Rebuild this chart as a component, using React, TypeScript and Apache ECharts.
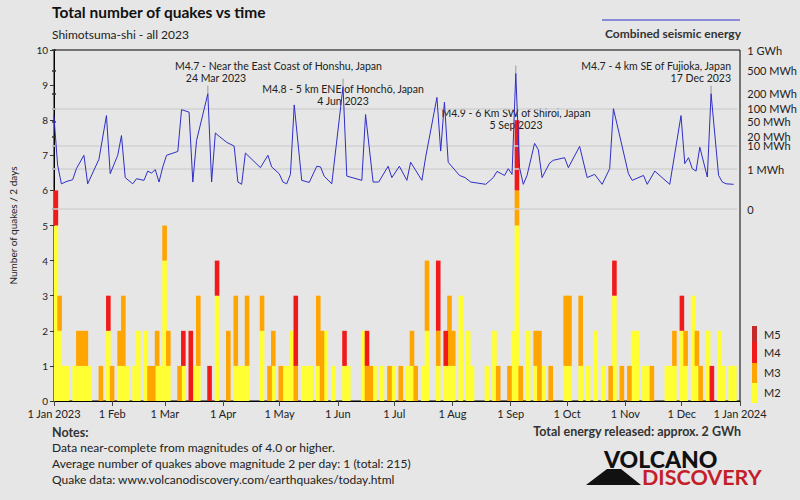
import { useEffect, useRef } from 'react';
import * as echarts from 'echarts';

// ---- axis ticks ----
const monthTickDays = [0, 31, 59, 90, 120, 151, 181, 212, 243, 273, 304, 334, 365];
const monthTickLabels = ['1 Jan 2023', '1 Feb', '1 Mar', '1 Apr', '1 May', '1 Jun', '1 Jul', '1 Aug', '1 Sep', '1 Oct', '1 Nov', '1 Dec', '1 Jan 2024'];

// ---- quake counts per 2-day bin (bin index i covers days 2i..2i+1) ----
const binIndex = [0, 1, 2, 3, 5, 6, 7, 8, 9, 12, 14, 15, 17, 18, 19, 21, 22, 24, 25, 26, 27, 28, 29, 30, 33, 34, 36, 37, 38, 41, 43, 46, 48, 49, 50, 51, 55, 57, 58, 60, 61, 62, 63, 64, 66, 67, 68, 70, 71, 72, 74, 77, 78, 82, 83, 84, 85, 87, 89, 90, 92, 94, 95, 96, 98, 99, 102, 104, 105, 106, 108, 110, 111, 115, 117, 118, 121, 122, 123, 124, 126, 128, 129, 130, 132, 136, 137, 140, 142, 144, 146, 148, 149, 151, 153, 154, 155, 157, 158, 159, 163, 164, 165, 167, 168, 170, 171, 172, 174, 175, 177, 178, 180, 181];
const m2 = [5, 2, 1, 1, 1, 1, 1, 1, 1, 0, 2, 0, 1, 1, 1, 1, 2, 2, 0, 0, 1, 1, 4, 1, 0, 1, 0, 1, 1, 0, 3, 0, 1, 1, 1, 1, 2, 0, 1, 0, 1, 1, 2, 0, 1, 1, 1, 1, 0, 2, 1, 1, 1, 2, 0, 0, 1, 1, 0, 1, 0, 1, 1, 0, 1, 2, 1, 1, 1, 1, 3, 2, 1, 1, 2, 0, 0, 2, 5, 0, 2, 1, 0, 1, 0, 1, 1, 1, 1, 2, 1, 0, 3, 0, 0, 2, 2, 1, 1, 0, 1, 1, 1, 2, 1, 3, 1, 0, 2, 0, 2, 1, 1, 1];
const m3 = [0, 1, 0, 0, 0, 1, 1, 1, 0, 1, 0, 1, 1, 2, 0, 0, 0, 0, 1, 1, 1, 0, 1, 1, 1, 0, 0, 0, 2, 0, 0, 2, 2, 0, 0, 2, 1, 1, 1, 1, 0, 0, 0, 1, 0, 0, 0, 2, 2, 0, 0, 0, 0, 0, 1, 1, 0, 0, 1, 0, 1, 0, 1, 1, 0, 2, 1, 0, 2, 1, 0, 0, 0, 0, 0, 1, 1, 0, 1, 1, 0, 1, 2, 0, 1, 2, 2, 2, 0, 0, 0, 1, 0, 1, 1, 0, 0, 0, 0, 1, 0, 0, 1, 0, 1, 0, 1, 1, 0, 0, 0, 0, 0, 0];
const m4 = [1, 0, 0, 0, 0, 0, 0, 0, 0, 0, 1, 0, 0, 0, 0, 0, 0, 0, 0, 0, 0, 0, 0, 0, 0, 1, 2, 0, 0, 1, 1, 0, 0, 0, 0, 0, 0, 0, 0, 0, 0, 0, 0, 2, 0, 0, 0, 0, 0, 0, 0, 1, 0, 0, 1, 0, 0, 0, 0, 0, 0, 0, 0, 0, 0, 0, 2, 1, 0, 0, 0, 0, 0, 0, 0, 0, 0, 0, 2, 0, 0, 0, 0, 0, 0, 0, 0, 0, 0, 0, 0, 0, 1, 0, 0, 0, 0, 0, 0, 0, 0, 0, 0, 1, 0, 0, 0, 0, 0, 1, 0, 0, 0, 0];
const m5 = binIndex.map(() => 0);
const binCount = 183;

// ---- combined seismic energy (MWh), by day of year ----
const energyDays = [1, 3, 5, 8, 11, 13, 17, 19, 25, 29, 31, 35, 37, 39, 43, 45, 49, 51, 53, 55, 57, 59, 61, 67, 69, 73, 75, 77, 83, 85, 87, 89, 93, 97, 99, 101, 103, 111, 115, 117, 121, 123, 125, 127, 129, 133, 137, 141, 143, 145, 149, 155, 157, 165, 167, 171, 174, 179, 181, 185, 189, 191, 197, 199, 205, 207, 209, 211, 217, 220, 223, 231, 235, 237, 241, 243, 245, 247, 249, 251, 253, 257, 259, 261, 265, 267, 273, 275, 281, 285, 289, 293, 297, 299, 307, 309, 315, 317, 321, 329, 335, 337, 339, 341, 343, 345, 349, 351, 355, 357, 359, 363];
const energyMWh = [70, 1.6, 0.1, 0.16, 0.21, 1.05, 4.4, 0.1, 3.0, 70, 0.54, 4.4, 21, 0.3, 0.1, 0.25, 0.19, 0.77, 0.59, 0.93, 0.14, 1.3, 4.4, 6.2, 95, 84, 0.14, 15, 200, 0.14, 25, 20, 13, 9.7, 0.14, 0.09, 5.4, 1.19, 4.4, 1.3, 0.54, 0.14, 0.1, 0.49, 120, 0.19, 0.13, 1.4, 1.3, 0.37, 0.1, 270, 0.38, 0.19, 74, 0.14, 0.14, 1.4, 0.3, 1.4, 0.19, 2.2, 0.19, 3.7, 170, 6.4, 137, 2.2, 0.42, 0.3, 0.14, 0.09, 0.3, 0.74, 0.42, 1.05, 0.49, 450, 1.19, 0.09, 0.42, 12, 7.2, 0.3, 2.0, 2.7, 3.5, 1.19, 9.5, 0.3, 0.49, 0.09, 1.05, 100, 0.54, 0.19, 0.42, 0.09, 0.77, 0.09, 70, 1.9, 3.5, 1.05, 0.77, 8.9, 0.33, 200, 0.42, 0.14, 0.1, 0.09];

const energyTickMWh = [0, 1, 10, 20, 50, 100, 200, 500, 1000];
const energyTickLabels = ['0', '1 MWh', '10 MWh', '20 MWh', '50 MWh', '100 MWh', '200 MWh', '500 MWh', '1 GWh'];
const energyGridMWh = [0, 1, 10, 100];

const peakDays = [83, 155, 247, 351];
const peakMWh = [200, 270, 450, 200];
const peakTitles = ['M4.7 - Near the East Coast of Honshu, Japan', 'M4.8 - 5 km ENE of Honchō, Japan', 'M4.9 - 6 Km SW of Shiroi, Japan', 'M4.7 - 4 km SE of Fujioka, Japan'];
const peakDates = ['24 Mar 2023', '4 Jun 2023', '5 Sep 2023', '17 Dec 2023'];

const noteLines = [
  'Data near-complete from magnitudes of 4.0 or higher.',
  'Average number of quakes above magnitude 2 per day: 1 (total: 215)',
  'Quake data: www.volcanodiscovery.com/earthquakes/today.html',
];

const magLegend = ['M5', 'M4', 'M3', 'M2'];

const FONT = 'Lato';
const C_Y = '#ffff33';
const C_O = '#ffa500';
const C_R = '#f01a1a';
const C_DR = '#c42a2a';
const C_LINE = '#2e2ec6';

const tr = (e: number) => Math.pow(e, 0.2);

export default function App() {
  const ref = useRef<HTMLDivElement>(null);
  useEffect(() => {
    if (!ref.current) return;
    const chart = echarts.init(ref.current, null, { renderer: 'svg' });
    const binCats: string[] = [];
    for (let i = 0; i < binCount; i++) binCats.push(String(i));
    const full = (arr: number[]) => binCats.map((_, i) => {
      const k = binIndex.indexOf(i);
      return k >= 0 ? arr[k] : 0;
    });
    const energyData = energyDays.map((d, k) => [d, tr(energyMWh[k])]);
    const tickVals = energyTickMWh.map(tr);
    const fmtEnergy = (val: number) => {
      let best = 0;
      let bd = Infinity;
      tickVals.forEach((v, k) => {
        const d = Math.abs(v - val);
        if (d < bd) { bd = d; best = k; }
      });
      return energyTickLabels[best];
    };
    const barCommon = {
      type: 'bar',
      xAxisIndex: 2,
      yAxisIndex: 0,
      stack: 'q',
      barWidth: 4.6,
      z: 3,
    };
    const annPos = [
      { x: 175, y: 66, align: 'left', x2: 216, y2: 78, align2: 'center' },
      { x: 343, y: 89, align: 'center', x2: 343, y2: 101, align2: 'center' },
      { x: 516, y: 113, align: 'center', x2: 516, y2: 125, align2: 'center' },
      { x: 731, y: 66, align: 'right', x2: 731, y2: 78, align2: 'right' },
    ];
    const graphics: any[] = [
      { type: 'text', left: 52, top: 4, style: { text: 'Total number of quakes vs time', font: `bold 15.5px ${FONT}`, fill: '#111' } },
      { type: 'text', left: 52, top: 28, style: { text: 'Shimotsuma-shi - all 2023', font: `12px ${FONT}`, fill: '#222' } },
      { type: 'line', shape: { x1: 602, y1: 20, x2: 740, y2: 20 }, style: { stroke: C_LINE, lineWidth: 1 } },
      { type: 'text', x: 741, y: 33, style: { text: 'Combined seismic energy', font: `bold 12px ${FONT}`, fill: '#333', align: 'right', verticalAlign: 'middle' } },
      { type: 'text', x: 52, y: 432, style: { text: 'Notes:', font: `bold 12.5px ${FONT}`, fill: '#333', verticalAlign: 'middle' } },
      { type: 'text', x: 741, y: 431, style: { text: 'Total energy released: approx. 2 GWh', font: `bold 12.5px ${FONT}`, fill: '#333', align: 'right', verticalAlign: 'middle' } },
      { type: 'polygon', shape: { points: [[586, 485], [607, 469], [621, 469], [641, 485]] }, style: { fill: '#111' } },
      { type: 'text', x: 604, y: 459, style: { text: 'VOLCANO', font: `900 23px ${FONT}`, fill: '#111', verticalAlign: 'middle', lineHeight: 17 } },
      { type: 'text', x: 642, y: 477, style: { text: 'DISCOVERY', font: `bold 21.5px ${FONT}`, fill: '#c41e2a', verticalAlign: 'middle', lineHeight: 15 } },
      // tick marks of the energy axis reaching inside the plot
    ];
    noteLines.forEach((t, k) => {
      graphics.push({ type: 'text', x: 52, y: 447 + k * 16, style: { text: t, font: `12px ${FONT}`, fill: '#222', verticalAlign: 'middle' } });
    });
    peakTitles.forEach((t, k) => {
      const p = annPos[k];
      graphics.push({ type: 'text', x: p.x, y: p.y, style: { text: t, font: `10.5px ${FONT}`, fill: '#222', align: p.align, verticalAlign: 'middle' } });
      graphics.push({ type: 'text', x: p.x2, y: p.y2, style: { text: peakDates[k], font: `10.5px ${FONT}`, fill: '#222', align: p.align2, verticalAlign: 'middle' } });
    });
    const legCols = [C_DR, C_R, C_O, C_Y];
    const legTops = [326, 342, 363, 383];
    const legBottoms = [342, 363, 383, 403];
    magLegend.forEach((m, k) => {
      graphics.push({ type: 'rect', shape: { x: 752, y: legTops[k], width: 5, height: legBottoms[k] - legTops[k] }, style: { fill: legCols[k] } });
      graphics.push({ type: 'text', x: 764, y: [334, 352, 372, 392][k], style: { text: m, font: `11px ${FONT}`, fill: '#222', verticalAlign: 'middle' } });
    });

    chart.setOption({
      animation: false,
      backgroundColor: '#e6e6e6',
      textStyle: { fontFamily: FONT },
      grid: [
        { left: 52, right: 60, top: 50, bottom: 99, show: true, borderColor: '#000', borderWidth: 1, backgroundColor: 'transparent' },
        { left: 52, right: 60, top: 50, height: 159 },
      ],
      xAxis: [
        {
          type: 'value', gridIndex: 0, min: 0, max: 365,
          axisLine: { show: true, lineStyle: { color: '#000' } },
          axisTick: { show: true, customValues: monthTickDays, length: 5, lineStyle: { color: '#444' } },
          axisLabel: {
            customValues: monthTickDays, fontSize: 11, color: '#222', margin: 7, fontFamily: FONT,
            formatter: (v: number) => monthTickLabels[monthTickDays.indexOf(Math.round(v))] ?? '',
          },
          splitLine: { show: false },
        },
        { type: 'value', gridIndex: 1, min: 0, max: 365, show: false },
        { type: 'category', gridIndex: 0, data: binCats, boundaryGap: true, show: false },
      ],
      yAxis: [
        {
          type: 'value', gridIndex: 0, min: 0, max: 10, interval: 1,
          name: 'Number of quakes / 2 days', nameLocation: 'middle', nameRotate: 90, nameGap: 36,
          nameTextStyle: { fontSize: 10, color: '#222', fontFamily: FONT },
          axisLine: { show: true, lineStyle: { color: '#000' } },
          axisTick: { show: true, length: 4, lineStyle: { color: '#333' } },
          axisLabel: { fontSize: 10, color: '#222', margin: 6, fontFamily: FONT },
          splitLine: { show: false },
        },
        {
          type: 'value', gridIndex: 1, position: 'right', min: 0, max: tr(1000),
          axisLine: { show: false },
          axisTick: { show: true, customValues: tickVals, length: 4, lineStyle: { color: '#333', width: 1.5 } },
          axisLabel: { customValues: tickVals, formatter: fmtEnergy, fontSize: 11, color: '#222', margin: 10, fontFamily: FONT },
          splitLine: { show: false },
        },
      ],
      graphic: graphics,
      series: [
        {
          type: 'line', xAxisIndex: 1, yAxisIndex: 1, data: energyData, symbol: 'none', silent: true,
          lineStyle: { opacity: 0 }, z: 1,
          markLine: {
            silent: true, symbol: 'none', label: { show: false },
            lineStyle: { color: '#d2d2d2', width: 1.5, type: 'solid' },
            data: energyGridMWh.map((e) => ({ yAxis: tr(e) })),
          },
        },
        { ...barCommon, name: 'M2', data: full(m2), itemStyle: { color: C_Y } },
        { ...barCommon, name: 'M3', data: full(m3), itemStyle: { color: C_O } },
        { ...barCommon, name: 'M4', data: full(m4), itemStyle: { color: C_R } },
        { ...barCommon, name: 'M5', data: full(m5), itemStyle: { color: C_DR } },
        {
          type: 'line', name: 'Combined seismic energy', xAxisIndex: 1, yAxisIndex: 1, data: energyData,
          symbol: 'none', lineStyle: { color: C_LINE, width: 1 }, z: 5,
          markPoint: {
            symbol: 'rect', symbolSize: [1, 8], symbolOffset: [0, -4], silent: true,
            itemStyle: { color: '#999' }, label: { show: false },
            data: peakDays.map((d, k) => ({ coord: [d, tr(peakMWh[k])] })),
          },
        },
      ],
    });
    return () => chart.dispose();
  }, []);
  return <div ref={ref} style={{ position: 'absolute', left: 0, top: 0, width: 800, height: 500 }} />;
}
